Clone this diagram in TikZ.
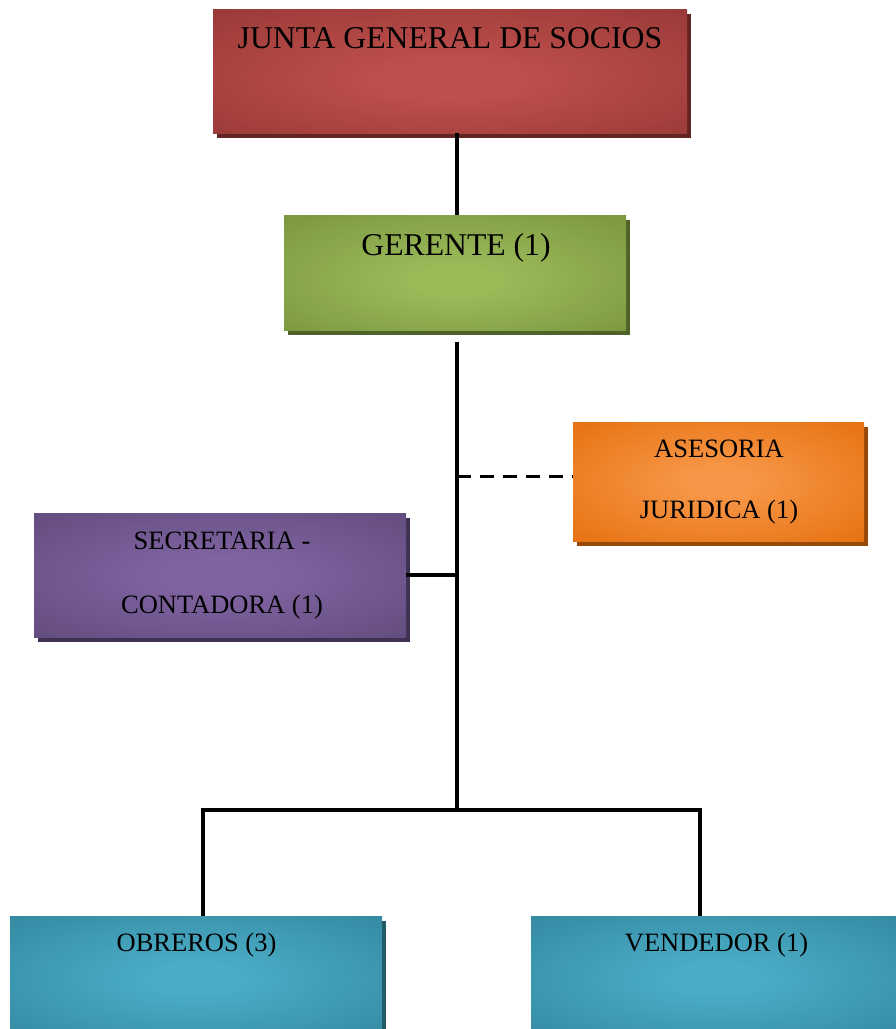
\documentclass[tikz,border=0pt]{standalone}
\usepackage{fontspec}
\setmainfont{Liberation Serif}
\usetikzlibrary{shadows}

% box palettes: rim (edge), mid (glow centre), shade (drop shadow)
\definecolor{redrim}{HTML}{953735}
\definecolor{redmid}{HTML}{C0504D}
\definecolor{redshade}{HTML}{632523}
\definecolor{greenrim}{HTML}{77933C}
\definecolor{greenmid}{HTML}{9BBB59}
\definecolor{greenshade}{HTML}{4F6228}
\definecolor{orangerim}{HTML}{E36C09}
\definecolor{orangemid}{HTML}{F79646}
\definecolor{orangeshade}{HTML}{984807}
\definecolor{purplerim}{HTML}{5F497A}
\definecolor{purplemid}{HTML}{8064A2}
\definecolor{purpleshade}{HTML}{3F3151}
\definecolor{tealrim}{HTML}{31859C}
\definecolor{tealmid}{HTML}{4BACC6}
\definecolor{tealshade}{HTML}{215968}

\pgfdeclareradialshading{redglow}{\pgfpoint{0bp}{-4bp}}{color(0bp)=(redmid); color(6bp)=(redmid); color(40bp)=(redrim); color(50bp)=(redrim)}
\pgfdeclareradialshading{greenglow}{\pgfpoint{0bp}{-4bp}}{color(0bp)=(greenmid); color(6bp)=(greenmid); color(40bp)=(greenrim); color(50bp)=(greenrim)}
\pgfdeclareradialshading{orangeglow}{\pgfpoint{0bp}{0bp}}{color(0bp)=(orangemid); color(6bp)=(orangemid); color(40bp)=(orangerim); color(50bp)=(orangerim)}
\pgfdeclareradialshading{purpleglow}{\pgfpoint{0bp}{0bp}}{color(0bp)=(purplemid); color(6bp)=(purplemid); color(40bp)=(purplerim); color(50bp)=(purplerim)}
\pgfdeclareradialshading{tealglow}{\pgfpoint{0bp}{0bp}}{color(0bp)=(tealmid); color(6bp)=(tealmid); color(40bp)=(tealrim); color(50bp)=(tealrim)}

\begin{document}
\begin{tikzpicture}[x=1pt,y=-1pt,
  box/.style={rectangle,inner sep=0pt,outer sep=0pt},
  shadowof/.style={drop shadow={shadow xshift=3.5pt,shadow yshift=-5pt,fill=#1,opacity=1}},
  bigtext/.style={anchor=base,inner sep=0pt,font=\fontsize{31.7}{38}\selectfont},
  smalltext/.style={anchor=base,inner sep=0pt,font=\fontsize{26.5}{32}\selectfont},
  wire/.style={line width=3.4pt,line join=miter},
  dashwire/.style={line width=3.4pt,dash pattern=on 14pt off 9pt}]
\clip (0,0) rectangle (896,1029);

% boxes
\node[box,minimum width=474pt,minimum height=124pt,shading=redglow,shadowof=redshade] (junta) at (450,71) {};
\node[box,minimum width=342pt,minimum height=115pt,shading=greenglow,shadowof=greenshade] (gerente) at (455,272.5) {};
\node[box,minimum width=291pt,minimum height=119pt,shading=orangeglow,shadowof=orangeshade] (asesoria) at (718.5,481.5) {};
\node[box,minimum width=372pt,minimum height=124pt,shading=purpleglow,shadowof=purpleshade] (secretaria) at (220,575) {};
\node[box,minimum width=372pt,minimum height=124pt,shading=tealglow,shadowof=tealshade] (obreros) at (196,978) {};
\node[box,minimum width=371pt,minimum height=124pt,shading=tealglow,shadowof=tealshade] (vendedor) at (716.5,978) {};

% labels
\node[bigtext] (juntatext) at (450,48) {JUNTA GENERAL DE SOCIOS};
\node[bigtext] (gerentetext) at (456,255) {GERENTE (1)};
\node[smalltext] (asesoriatexta) at (719,457) {ASESORIA};
\node[smalltext] (asesoriatextb) at (719,518) {JURIDICA (1)};
\node[smalltext] (secretariatexta) at (222,549) {SECRETARIA -};
\node[smalltext] (secretariatextb) at (222,613) {CONTADORA (1)};
\node[smalltext] (obrerostext) at (196.5,951) {OBREROS (3)};
\node[smalltext] (vendedortext) at (716.5,951) {VENDEDOR (1)};

% connectors
\coordinate (spinetop) at (457,341.5);
\coordinate (hub) at (457,810);
\coordinate (lefttap) at (203,810);
\coordinate (righttap) at (700,810);
\coordinate (legal) at (457,476.7);

\draw[wire] (junta.south -| hub) -- (gerente.north -| hub);
\draw[wire] (spinetop) -- (hub);
\draw[wire] (lefttap |- obreros.north) -- (lefttap) -- (righttap) -- (righttap |- vendedor.north);
\draw[wire] (secretaria.east) -- (secretaria.east -| hub);
\draw[dashwire] (legal) -- (legal -| asesoria.west);
\end{tikzpicture}
\end{document}
